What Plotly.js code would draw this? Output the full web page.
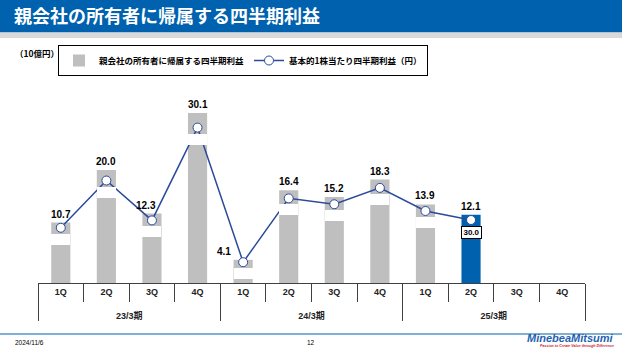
<!DOCTYPE html>
<html>
<head>
<meta charset="utf-8">
<script src="https://cdn.plot.ly/plotly-3.0.1.min.js"></script>
<style>
  html, body { margin: 0; padding: 0; background: #ffffff; }
  #chart { width: 622px; height: 350px; }
</style>
</head>
<body>
<div id="chart"></div>
<script>
// ---- data ----
const periods = ['23/3期','23/3期','23/3期','23/3期','24/3期','24/3期','24/3期','24/3期','25/3期','25/3期','25/3期','25/3期'];
const quarters = ['1Q','2Q','3Q','4Q','1Q','2Q','3Q','4Q','1Q','2Q','3Q','4Q'];
const netIncome = [10.7, 20.0, 12.3, 30.1, 4.1, 16.4, 15.2, 18.3, 13.9, 12.1, null, null];   // 10億円
const eps = [26.3, 48.8, 29.8, 74.0, 9.9, 40.3, 37.5, 45.3, 34.3, 30.0, null, null];         // 円
const seriesNames = ['親会社の所有者に帰属する四半期利益', '基本的1株当たり四半期利益（円）'];
const unitLabel = '（10億円）';
const titleText = '親会社の所有者に帰属する四半期利益';
const footerDate = '2024/11/6';
const pageNo = '12';
const logoText = 'MinebeaMitsumi';
const tagline = 'Passion to Create Value through Difference';

// ---- styles ----
const GREY = '#BFBFBF';
const BLUE = '#0062AE';
const LINE = '#2B4A9B';
const AXIS = '#404040';
const LATEST = 9; // highlighted (latest) quarter
const JP = 'Noto Sans CJK JP, sans-serif';
const NUM = 'Liberation Sans, Arial, Noto Sans CJK JP, sans-serif';

const W = 622, H = 350;
const M = {l: 38, r: 37, t: 85, b: 67};
const plotH = H - M.t - M.b, plotW = W - M.l - M.r;
const px = x => (x - M.l) / plotW;           // page px -> paper x
const py = y => (H - M.b - y) / plotH;       // page px -> paper y

// quarter row gets an empty second line so the period row sits lower (as in the reference)
const quarterTicks = quarters.map(q => q + '<br>\u00a0');

const barTrace = {
  type: 'bar',
  name: seriesNames[0],
  x: [periods, quarterTicks],
  y: netIncome,
  width: 0.42,
  marker: {color: netIncome.map((v, i) => i === LATEST ? BLUE : GREY), line: {width: 0}},
  hoverinfo: 'skip',
  showlegend: true
};
const lineTrace = {
  type: 'scatter',
  mode: 'lines+markers',
  name: seriesNames[1],
  x: [periods, quarterTicks],
  y: eps,
  yaxis: 'y2',
  line: {color: LINE, width: 1.5},
  marker: {symbol: 'circle', size: 9, color: '#ffffff', line: {color: LINE, width: 1}},
  hoverinfo: 'skip',
  connectgaps: false
};

const annotations = [];
// value labels of net income
netIncome.forEach((v, i) => {
  if (v === null) return;
  let xs = 0;
  if (i === 4) xs = -19;
  if (i === 2) xs = -6;
  annotations.push({
    x: i, y: v, xref: 'x', yref: 'y', yanchor: 'bottom', xanchor: 'center',
    yshift: 1, xshift: xs, showarrow: false,
    text: v.toFixed(1),
    font: {family: NUM, size: 10, color: '#000', weight: 'bold'}
  });
});
// EPS label boxes (white boxes below marker; only latest shown)
eps.forEach((v, i) => {
  if (v === null) return;
  const shown = i === LATEST;
  annotations.push({
    x: i, y: v, xref: 'x', yref: 'y2', yanchor: 'top', xanchor: 'center',
    yshift: -6, showarrow: false,
    text: shown ? v.toFixed(1) : ' ',
    width: shown ? 17 : 19, height: shown ? 9 : 11,
    bgcolor: '#ffffff',
    bordercolor: shown ? '#000000' : 'rgba(0,0,0,0)',
    borderwidth: shown ? 1 : 0, borderpad: shown ? 1 : 0,
    font: {family: NUM, size: 8, color: '#000', weight: 'bold'}
  });
});
// unit label
annotations.push({
  xref: 'paper', yref: 'paper', x: px(13), y: py(53), xanchor: 'left', yanchor: 'middle',
  showarrow: false, text: unitLabel, font: {family: JP, size: 8.5, color: '#000', weight: 'bold'}
});
// footer
annotations.push({
  xref: 'paper', yref: 'paper', x: px(13), y: py(342), xanchor: 'left', yanchor: 'middle',
  showarrow: false, text: footerDate, font: {family: NUM, size: 6.5, color: '#000'}
});
annotations.push({
  xref: 'paper', yref: 'paper', x: px(311), y: py(342), xanchor: 'center', yanchor: 'middle',
  showarrow: false, text: pageNo, font: {family: NUM, size: 6.5, color: '#000'}
});
annotations.push({
  xref: 'paper', yref: 'paper', x: px(616), y: py(338), xanchor: 'right', yanchor: 'middle',
  showarrow: false, text: '<i>' + logoText + '</i>', font: {family: NUM, size: 11, color: '#1F5FAE', weight: 'bold'}
});
annotations.push({
  xref: 'paper', yref: 'paper', x: px(616), y: py(345.5), xanchor: 'right', yanchor: 'middle',
  showarrow: false, text: '<i>' + tagline + '</i>', font: {family: NUM, size: 3.6, color: '#D0202A', weight: 'bold'}
});

const shapes = [
  {type: 'rect', xref: 'paper', yref: 'paper', x0: px(-5), x1: px(W + 5), y0: py(32.5), y1: py(-5),
   fillcolor: '#0062AE', line: {width: 0}, layer: 'below'},
  {type: 'rect', xref: 'paper', yref: 'paper', x0: px(-5), x1: px(W + 5), y0: py(38), y1: py(32.5),
   fillcolor: '#D9D9D9', line: {width: 0}, layer: 'below'},
  {type: 'line', xref: 'paper', yref: 'paper', x0: px(0), x1: px(W), y0: py(334), y1: py(334),
   line: {color: '#0062AE', width: 1.2}, layer: 'below'}
];

const layout = {
  width: W, height: H,
  margin: M,
  paper_bgcolor: '#ffffff', plot_bgcolor: 'rgba(0,0,0,0)',
  title: {
    text: titleText, xref: 'container', yref: 'container', x: 14 / W, xanchor: 'left',
    y: 1 - 17 / H, yanchor: 'middle',
    font: {family: JP, size: 18, color: '#ffffff', weight: 'bold'}
  },
  showlegend: true,
  legend: {
    orientation: 'h', x: px(58), y: py(45), xanchor: 'left', yanchor: 'top',
    bordercolor: '#000000', borderwidth: 1, bgcolor: '#ffffff',
    font: {family: JP, size: 8.5, color: '#000', weight: 'bold'},
    itemwidth: 30, traceorder: 'normal', tracegroupgap: 0
  },
  xaxis: {
    type: 'multicategory', range: [-0.5, 11.5],
    showline: true, linecolor: AXIS, linewidth: 1,
    ticks: 'outside', ticklen: 18, tickcolor: AXIS, tickwidth: 1,
    tickfont: {family: NUM, size: 9, color: '#222', weight: 'bold'},
    showdividers: true, dividercolor: AXIS, dividerwidth: 1,
    showgrid: false, zeroline: false, fixedrange: true
  },
  yaxis: {range: [0, plotH / 5.65], visible: false, fixedrange: true},
  yaxis2: {range: [0, plotH / 2.1], overlaying: 'y', side: 'right', visible: false, fixedrange: true},
  bargap: 0.58,
  annotations: annotations,
  shapes: shapes
};

Plotly.newPlot('chart', [barTrace, lineTrace], layout, {staticPlot: true, displayModeBar: false});
</script>
</body>
</html>
